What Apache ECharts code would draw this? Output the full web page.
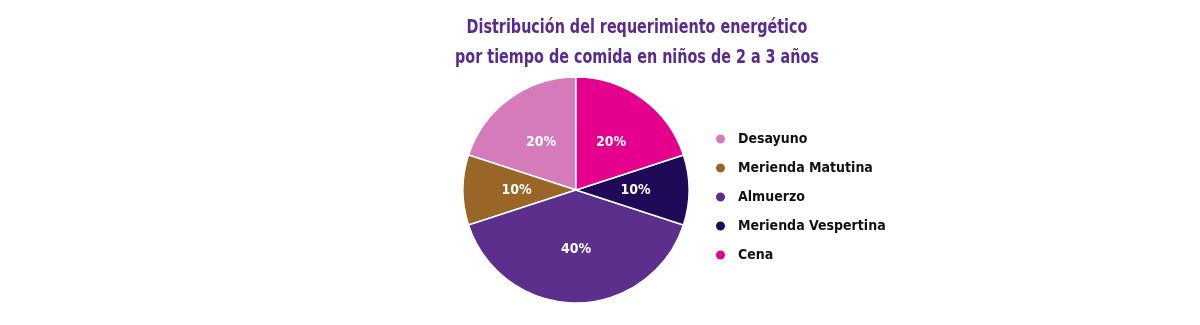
<!DOCTYPE html>
<html>
<head>
<meta charset="utf-8">
<script src="https://cdn.jsdelivr.net/npm/echarts@6/dist/echarts.min.js"></script>
<style>
  html, body { margin: 0; padding: 0; background: #ffffff; }
  #chart { width: 1200px; height: 325px; }
</style>
</head>
<body>
<div id="chart"></div>
<script>
// Meal times and their share of the daily energy requirement (%)
const categories = ['Desayuno', 'Merienda Matutina', 'Almuerzo', 'Merienda Vespertina', 'Cena'];
const shares = [20, 10, 40, 10, 20];
const colors = ['#d57bb9', '#9a6627', '#5b2f8b', '#1f0a57', '#e4008c'];

const titleText = 'Distribución del requerimiento energético\npor tiempo de comida en niños de 2 a 3 años';
const condensed = '"Liberation Sans Narrow", "DejaVu Sans Condensed", "Open Sans", sans-serif';

const chart = echarts.init(document.getElementById('chart'), null, { renderer: 'canvas' });

chart.setOption({
  backgroundColor: '#ffffff',
  animation: false,
  color: colors,
  graphic: [{
    type: 'text',
    x: 637,
    y: 13,
    scaleX: 0.84,
    style: {
      text: titleText,
      textAlign: 'center',
      textVerticalAlign: 'top',
      font: 'bold 19px ' + condensed,
      fill: '#5a2a8c',
      lineHeight: 30
    }
  }],
  legend: {
    orient: 'vertical',
    left: 709,
    top: 125,
    icon: 'circle',
    itemWidth: 11,
    itemHeight: 11,
    itemGap: 11,
    selectedMode: false,
    data: categories,
    textStyle: {
      fontFamily: condensed,
      fontWeight: 'bold',
      fontSize: 14,
      color: '#111111',
      lineHeight: 18,
      padding: [0, 0, 0, 7]
    }
  },
  series: [{
    type: 'pie',
    center: [576, 190],
    radius: 113,
    startAngle: 90,
    clockwise: false,
    data: categories.map((name, i) => ({ name, value: shares[i] })),
    itemStyle: { borderColor: '#ffffff', borderWidth: 1.5 },
    label: {
      show: true,
      position: 'inside',
      formatter: '{c}%',
      color: '#ffffff',
      fontFamily: condensed,
      fontWeight: 'bold',
      fontSize: 14
    },
    labelLine: { show: false },
    emphasis: { disabled: true }
  }]
});
</script>
</body>
</html>
